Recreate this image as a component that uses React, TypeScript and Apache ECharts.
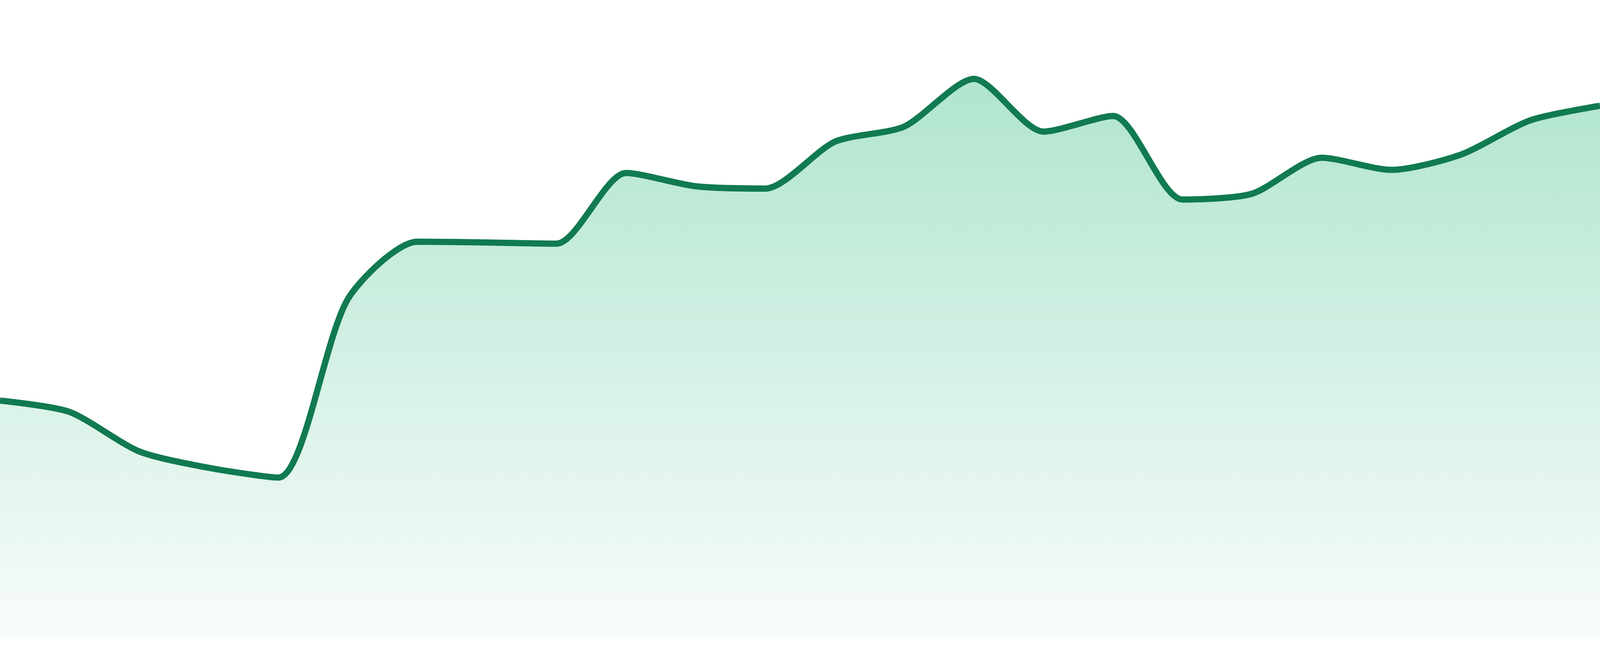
import { useEffect, useRef } from 'react';
import * as echarts from 'echarts';

const hours = [
  '00:00', '01:00', '02:00', '03:00', '04:00', '05:00', '06:00', '07:00',
  '08:00', '09:00', '10:00', '11:00', '12:00', '13:00', '14:00', '15:00',
  '16:00', '17:00', '18:00', '19:00', '20:00', '21:00', '22:00', '23:00',
];

const values = [
  60.6, 57.7, 47.6, 43.4, 40.9, 86.6, 101.3, 101.1,
  100.8, 118.9, 115.5, 114.9, 126.9, 130.8, 143.0, 129.5,
  133.5, 112.1, 113.6, 122.8, 119.7, 123.6, 132.4, 136.1,
];

const lineColor = '#117a50';
const fillTop = '#b0e5cf';
const fillBottom = '#f8fcfa';

export default function App() {
  const chartRef = useRef<HTMLDivElement>(null);

  useEffect(() => {
    if (!chartRef.current) return;
    document.body.style.margin = '0';
    document.body.style.overflow = 'hidden';

    // sizes
    const k = window.innerHeight / 1680;

    const chart = echarts.init(chartRef.current, undefined, { renderer: 'svg' });

    const option: echarts.EChartsOption = {
      animation: false,
      backgroundColor: '#ffffff',
      grid: { left: 0, right: 0, top: 32 * k, bottom: 48 * k, containLabel: false },
      xAxis: {
        type: 'category',
        data: hours,
        boundaryGap: false,
        show: false,
      },
      yAxis: {
        type: 'value',
        min: 0,
        max: 160,
        show: false,
        splitLine: { show: false },
      },
      series: [
        {
          type: 'line',
          data: values,
          smooth: 0.25,
          symbol: 'none',
          clip: false,
          lineStyle: { color: lineColor, width: 16 * k },
          areaStyle: {
            opacity: 1,
            color: new echarts.graphic.LinearGradient(0, 0, 0, 1, [
              { offset: 0, color: fillTop },
              { offset: 1, color: fillBottom },
            ]),
          },
        },
      ],
    };

    chart.setOption(option);

    return () => {
      chart.dispose();
    };
  }, []);

  return <div ref={chartRef} style={{ width: '100vw', height: '100vh' }} />;
}
